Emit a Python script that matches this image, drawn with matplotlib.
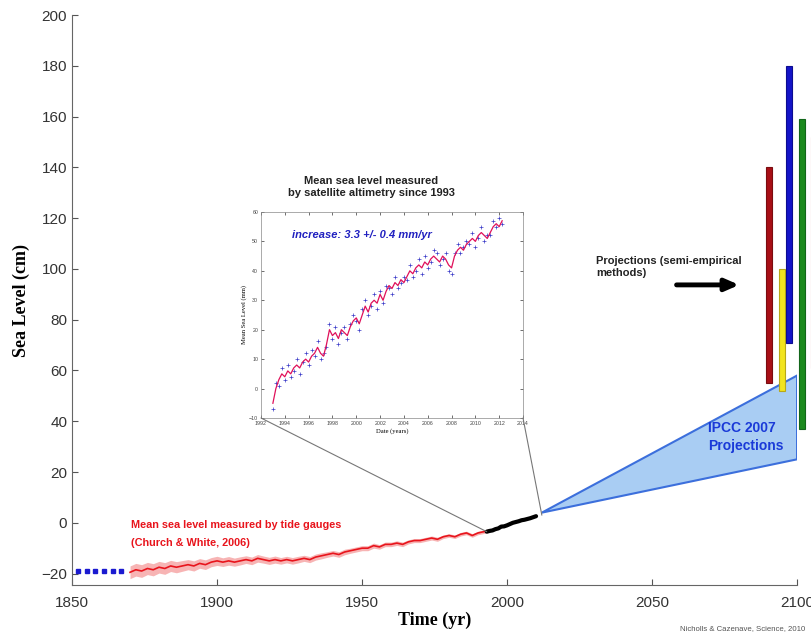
import numpy as np
import matplotlib
matplotlib.use('Agg')
import matplotlib.pyplot as plt
from matplotlib.patches import Polygon, ConnectionPatch

# tide gauges (Church & White), every 2 years
tg_years = np.arange(1870, 1995, 2)
tg_level = [-19.5, -18.5, -19, -18, -18.5, -17.5, -18, -17, -17.5, -17, -16.5, -17, -16,
            -16.5, -15.5, -15, -15.5, -15, -15.5, -15, -14.5, -15, -14, -14.5, -15, -14.5,
            -15, -14.5, -15, -14.5, -14, -14.5, -13.5, -13, -12.5, -12, -12.5, -11.5, -11,
            -10.5, -10, -10, -9, -9.5, -8.5, -8.5, -8, -8.5, -7.5, -7, -7, -6.5, -6, -6.5,
            -5.5, -5, -5.5, -4.5, -4, -5, -4, -3.5, -3]
tg_err = [2.5, 2.5, 2.5, 2.4, 2.4, 2.3, 2.3, 2.2, 2.2, 2.1, 2.0, 2.0, 1.9, 1.9, 1.8, 1.8,
          1.7, 1.7, 1.6, 1.6, 1.5, 1.5, 1.5, 1.4, 1.4, 1.4, 1.3, 1.3, 1.3, 1.3, 1.2, 1.2,
          1.2, 1.2, 1.1, 1.1, 1.1, 1.1, 1.0, 1.0, 1.0, 1.0, 1.0, 0.9, 0.9, 0.9, 0.9, 0.9,
          0.8, 0.8, 0.8, 0.8, 0.8, 0.8, 0.7, 0.7, 0.7, 0.7, 0.7, 0.7, 0.7, 0.7, 0.7]

# satellite altimetry in main panel (cm)
sat_years = np.arange(1993, 2011)
sat_level = [-3.5, -3.2, -3, -2.5, -2.2, -1.5, -1.4, -1, -0.5, 0, 0.3, 0.6, 1, 1.2, 1.5,
             1.8, 2.2, 2.6]

# pre-1870 dotted estimate
early_years = [1852, 1855, 1858, 1861, 1864, 1867]
early_level = [-19, -19, -19, -19, -19, -19]

# IPCC 2007 projection wedge
ipcc_years = [2012, 2100, 2100]
ipcc_level = [4, 58, 25]

# semi-empirical projections (year, low, high)
proj_years = [2090.3, 2094.8, 2097.2, 2101.7, 2106]
proj_low = [55, 52, 71, 37, 61]
proj_high = [140, 100, 180, 159, 152]
proj_colors = ['#a80f16', '#f2e41e', '#1414c8', '#1b8a1e', '#f6d8d8']
proj_edges = ['#7a0c10', '#b8a818', '#0c0c90', '#12661a', '#e08080']

# inset: satellite altimetry (mm), quarterly
ins_years = np.arange(1993, 2012.3, 0.25)
ins_smooth = [-5, 0, 3, 5, 4, 6, 5, 7, 8, 7, 9, 10, 9, 11, 12, 14, 12, 11, 15, 20, 18, 19,
              17, 20, 19, 18, 21, 23, 24, 22, 25, 28, 26, 29, 30, 29, 32, 30, 33, 35, 34, 36,
              35, 37, 36, 38, 40, 39, 41, 42, 41, 43, 42, 44, 45, 44, 43, 45, 44, 42, 41, 45,
              47, 48, 47, 49, 50, 51, 50, 52, 53, 52, 51, 53, 55, 56, 55, 57]
ins_raw = [-7, 2, 1, 7, 3, 8, 4, 6, 10, 5, 9, 12, 8, 13, 11, 16, 10, 12, 14, 22, 17, 21,
           15, 19, 21, 17, 22, 25, 23, 20, 27, 30, 25, 28, 32, 27, 33, 29, 35, 34, 32, 38,
           34, 36, 38, 37, 42, 38, 40, 44, 39, 45, 41, 43, 47, 46, 42, 44, 46, 40, 39, 46,
           49, 46, 48, 50, 49, 53, 48, 51, 55, 50, 52, 52, 57, 55, 58, 56]

plt.rcParams['font.family'] = ['Liberation Sans', 'DejaVu Sans']

fig = plt.figure(figsize=(8.12, 6.34), dpi=100)
ax = fig.add_axes([0.0887, 0.0773, 0.8929, 0.899])

ax.fill_between(tg_years, np.array(tg_level) - np.array(tg_err),
                np.array(tg_level) + np.array(tg_err), color='#f7b4b4', lw=0)
ax.plot(tg_years, tg_level, color='#e8141c', lw=1.2)
ax.plot(sat_years, sat_level, color='black', lw=3, solid_capstyle='round')
ax.plot(early_years, early_level, ls='none', marker='s', ms=3.5, color='#1a1ad0')

ax.add_patch(Polygon(np.column_stack([ipcc_years, ipcc_level]), closed=True,
                     facecolor='#a9cdf3', edgecolor='#3c6fdc', lw=1.5, zorder=3))

for x, lo, hi, c, ec in zip(proj_years, proj_low, proj_high, proj_colors, proj_edges):
    ax.bar(x, hi - lo, bottom=lo, width=2.3, color=c, edgecolor=ec, lw=0.8,
           clip_on=False, zorder=4)

ax.set_xlim(1850, 2100)
ax.set_ylim(-24.5, 200)
ax.set_xticks(range(1850, 2101, 50))
ax.set_yticks(range(-20, 201, 20))
ax.tick_params(direction='in', length=4, color='#555555', labelcolor='#333333',
               labelsize=11)
ax.tick_params(axis='x', pad=8)
for s in ['top', 'right']:
    ax.spines[s].set_visible(False)
for s in ['left', 'bottom']:
    ax.spines[s].set_color('#666666')
ax.set_ylabel('Sea Level (cm)', family='Liberation Serif', fontweight='bold',
              fontsize=13, labelpad=8)
ax.set_xlabel('Time (yr)', family='Liberation Serif', fontweight='bold',
              fontsize=13, labelpad=1)

ax.text(1870.3, -1, 'Mean sea level measured by tide gauges', color='#e8141c',
        fontsize=7.8, fontweight='bold', va='center')
ax.text(1870.3, -8, '(Church & White, 2006)', color='#e8141c',
        fontsize=7.8, fontweight='bold', va='center')

ax.text(2030.7, 105, 'Projections (semi-empirical\nmethods)', fontsize=8,
        fontweight='bold', va='top', color='#222222', linespacing=1.2)
ax.annotate('', xy=(2081, 93.7), xytext=(2057.5, 93.7),
            arrowprops=dict(arrowstyle='-|>,head_length=0.8,head_width=0.35',
                            color='black', lw=3.5))
ax.text(2069.3, 33.9, 'IPCC 2007\nProjections', fontsize=10, fontweight='bold',
        color='#1a3ad8', va='center', linespacing=1.4, zorder=5)

fig.text(0.837, 0.006, 'Nicholls & Cazenave, Science, 2010', fontsize=5.6,
         color='#555555')

# inset
ins = fig.add_axes([0.3214, 0.3407, 0.3227, 0.325])
ins.plot(ins_years, ins_raw, ls='none', marker='+', ms=2.5, mew=0.5, color='#3a3ac8')
ins.plot(ins_years, ins_smooth, color='#e0105a', lw=0.9)
ins.set_xlim(1992, 2014)
ins.set_ylim(-10, 60)
ins.set_xticks(range(1992, 2015, 2))
ins.set_yticks(range(-10, 61, 10))
ins.tick_params(direction='in', length=2, labelsize=3.8, width=0.4, pad=2,
                top=True, right=True, labelcolor='#444444')
for s in ins.spines.values():
    s.set_linewidth(0.5)
    s.set_color('#888888')
ins.set_xlabel('Date (years)', fontsize=4.8, family='Liberation Serif', labelpad=1.5)
ins.set_ylabel('Mean Sea Level (mm)', fontsize=4.8, family='Liberation Serif', labelpad=1.5)
ins.text(0.42, 1.12, 'Mean sea level measured\nby satellite altimetry since 1993',
         transform=ins.transAxes, fontsize=8, fontweight='bold', color='#222222',
         ha='center', va='center', linespacing=1.3)
ins.text(0.12, 0.89, 'increase: 3.3 +/- 0.4 mm/yr', transform=ins.transAxes, fontsize=8,
         fontweight='bold', style='italic', color='#2020c0', va='center')

for xa, (xd, yd) in [(0.0, (1993, -3.5)), (1.0, (2012, 3))]:
    con = ConnectionPatch(xyA=(xa, 0), coordsA=ins.transAxes, xyB=(xd, yd),
                          coordsB=ax.transData, color='#777777', lw=0.8)
    fig.add_artist(con)

fig.savefig('out.png', dpi=100)
